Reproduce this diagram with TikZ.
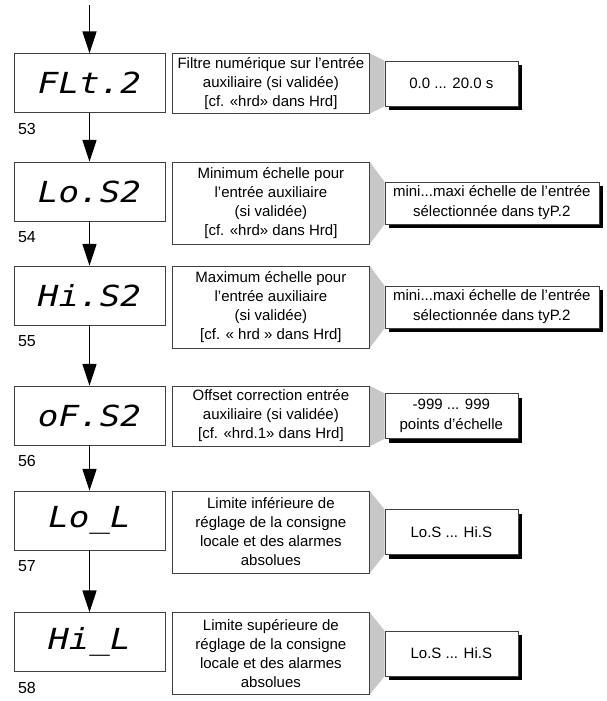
\documentclass[tikz,border=0pt]{standalone}
\usepackage{fontspec}
\setmainfont{Liberation Sans}
\newfontfamily\segfont{DejaVu Sans Mono}[FakeStretch=1.18]
\usetikzlibrary{arrows.meta,positioning,shadows,backgrounds}
\tikzset{
  display/.style={
    draw=black!75,
    minimum width=151pt,
    minimum height=59pt,
    inner sep=0pt,
    font=\segfont\itshape\fontsize{29}{29}\selectfont
  },
  desc/.style={
    draw=black!75,
    fill=white,
    minimum width=197pt,
    align=center,
    inner sep=2pt,
    font=\fontsize{15}{19}\selectfont
  },
  value/.style={
    draw=black!75,
    fill=white,
    minimum width=133pt,
    minimum height=45pt,
    align=center,
    inner sep=2pt,
    font=\fontsize{15}{20}\selectfont,
    drop shadow={shadow xshift=4pt,shadow yshift=-4pt,fill=black,opacity=1}
  },
  num/.style={
    inner sep=0pt,
    font=\fontsize{16}{18}\selectfont
  },
  link/.style={
    fill=black!22
  },
  line/.style={
    -{Triangle[length=22pt,width=14pt]},
    line width=1.6pt
  }
}

\begin{document}
\begin{tikzpicture}[x=1pt,y=-1pt]

\useasboundingbox (0,0) rectangle (607,701);

\coordinate (start) at (89.5,5);

\node[display] (flt) at (89.5,83) {FLt.2};
\node[display] (los) at (89.5,191.5) {Lo.S2};
\node[display] (his) at (89.5,295.5) {Hi.S2};
\node[display] (ofs) at (89.5,415.5) {oF.S2};
\node[display] (lol) at (89.5,520.5) {Lo\_L};
\node[display] (hil) at (89.5,642) {Hi\_L};

\node[num, below right=10pt and 4pt of flt.south west] (n53) {53};
\node[num, below right=10pt and 4pt of los.south west] (n54) {54};
\node[num, below right=10pt and 4pt of his.south west] (n55) {55};
\node[num, below right=10pt and 4pt of ofs.south west] (n56) {56};
\node[num, below right=10pt and 4pt of lol.south west] (n57) {57};
\node[num, below right=10pt and 4pt of hil.south west] (n58) {58};

\node[desc, minimum height=60pt, below right=0pt and 7pt of flt.north east] (flttxt)
  {Filtre numérique sur l’entrée\\auxiliaire (si validée)\\{}[cf. «hrd» dans Hrd]};
\node[desc, minimum height=82pt, below right=0pt and 7pt of los.north east] (lostxt)
  {Minimum échelle pour\\l’entrée auxiliaire\\(si validée)\\{}[cf. «hrd» dans Hrd]};
\node[desc, minimum height=82pt, below right=0pt and 7pt of his.north east] (histxt)
  {Maximum échelle pour\\l’entrée auxiliaire\\(si validée)\\{}[cf. « hrd » dans Hrd]};
\node[desc, minimum height=60pt, below right=0pt and 7pt of ofs.north east] (ofstxt)
  {Offset correction entrée\\auxiliaire (si validée)\\{}[cf. «hrd.1» dans Hrd]};
\node[desc, minimum height=82pt, below right=0pt and 7pt of lol.north east] (loltxt)
  {Limite inférieure de\\réglage de la consigne\\locale et des alarmes\\absolues};
\node[desc, minimum height=82pt, below right=0pt and 7pt of hil.north east] (hiltxt)
  {Limite supérieure de\\réglage de la consigne\\locale et des alarmes\\absolues};

\node[value, right=15pt of flttxt] (fltval) {0.0 ... 20.0 s};
\node[value, minimum width=214pt, minimum height=42pt, right=15pt of lostxt] (losval)
  {mini...maxi échelle de l’entrée\\sélectionnée dans tyP.2};
\node[value, minimum width=214pt, minimum height=42pt, right=15pt of histxt] (hisval)
  {mini...maxi échelle de l’entrée\\sélectionnée dans tyP.2};
\node[value, right=15pt of ofstxt] (ofsval) {-999 ... 999\\points d’échelle};
\node[value, right=15pt of loltxt] (lolval) {Lo.S ... Hi.S};
\node[value, right=15pt of hiltxt] (hilval) {Lo.S ... Hi.S};

\begin{scope}[on background layer]
\foreach \p in {flt,los,his,ofs,lol,hil}
  \fill[link] (\p txt.north east) -- (\p val.north west)
    -- (\p val.south west) -- (\p txt.south east) -- cycle;
\end{scope}

\draw[line] (start) -- (flt);
\draw[line] (flt) -- (los);
\draw[line] (los) -- (his);
\draw[line] (his) -- (ofs);
\draw[line] (ofs) -- (lol);
\draw[line] (lol) -- (hil);

\end{tikzpicture}
\end{document}
